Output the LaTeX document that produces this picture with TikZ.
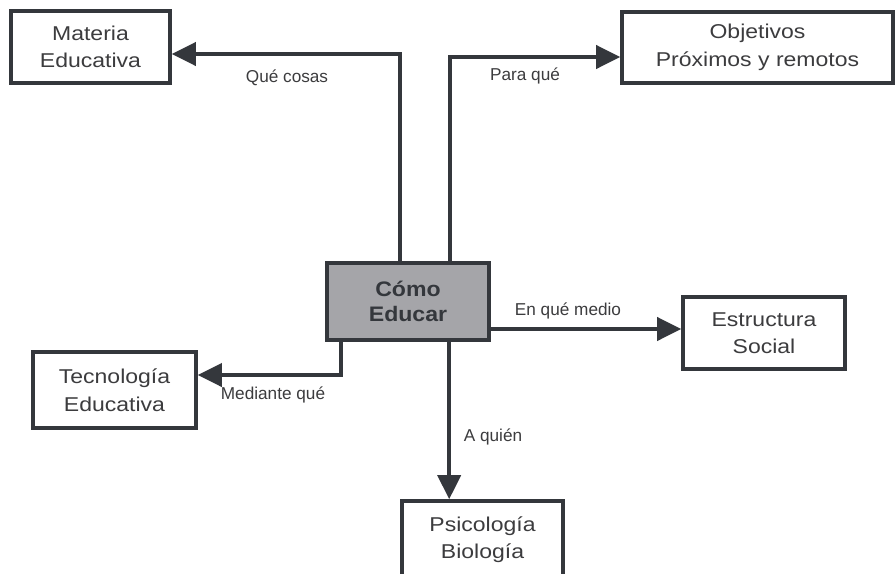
\documentclass[tikz,border=0pt]{standalone}
\usepackage{fontspec}
\setmainfont{Liberation Sans}
\newfontfamily\boxfont{Liberation Sans}[FakeStretch=1.15]
\newfontfamily\midfont{Liberation Sans}[FakeStretch=1.1]
\usetikzlibrary{arrows.meta,calc}
\definecolor{ink}{RGB}{52,55,60}
\definecolor{txt}{RGB}{60,60,62}
\definecolor{boxgray}{RGB}{165,165,169}
\tikzset{
  box/.style={draw=ink, line width=3.6pt, fill=white, inner sep=0pt, align=center,
    text=txt, font=\boxfont\fontsize{20}{27.5}\selectfont},
  conn/.style={draw=ink, line width=3.8pt,
    -{Triangle[length=24pt,width=23pt]}},
  lbl/.style={text=txt, font=\fontsize{17.2}{20}\selectfont, inner sep=0pt},
}
\begin{document}
\begin{tikzpicture}[x=1pt,y=-1pt]
\useasboundingbox (0,0) rectangle (896,573);
\clip (0,0) rectangle (896,573);
\fill[white] (0,0) rectangle (896,573);

\node[box, minimum width=159pt, minimum height=72pt] (mat) at (90.5,47) {Materia\\Educativa};
\node[box, minimum width=271pt, minimum height=71pt] (obj) at (757.5,47.5) {Objetivos\\Próximos y remotos};
\node[box, fill=boxgray, minimum width=162pt, minimum height=77pt, text=ink,
      font=\midfont\fontsize{21}{25}\selectfont\bfseries] (como) at (408,301.5) {Cómo\\Educar};
\node[box, minimum width=162pt, minimum height=72pt] (est) at (764,333) {Estructura\\Social};
\node[box, minimum width=163pt, minimum height=76pt] (tec) at (114.5,390) {Tecnología\\Educativa};
\node[box, minimum width=161pt, minimum height=77pt] (psi) at (482.5,539.5) {Psicología\\Biología};

\coordinate (cq) at ($(como.north west)+(75,0)$);
\coordinate (cp) at ($(como.north west)+(125,0)$);
\coordinate (cm) at ($(como.south west)+(16,0)$);
\coordinate (ca) at ($(como.south west)+(124,0)$);
\coordinate (ein) at ([yshift=4pt]est.west);

\draw[conn] (cq) |- ([yshift=-7pt]mat.east);
\draw[conn] (cp) |- ([yshift=-9.5pt]obj.west);
\draw[conn] (como.east |- ein) -- (ein);
\draw[conn] (cm) |- ([yshift=15pt]tec.east);
\draw[conn] (ca) -- (ca |- psi.north);

\node[lbl] (l1) at (287,78) {Qué cosas};
\node[lbl] (l2) at (525,76) {Para qué};
\node[lbl] (l3) at (568,311) {En qué medio};
\node[lbl] (l4) at (273,395) {Mediante qué};
\node[lbl] (l5) at (493,437) {A quién};
\end{tikzpicture}
\end{document}
